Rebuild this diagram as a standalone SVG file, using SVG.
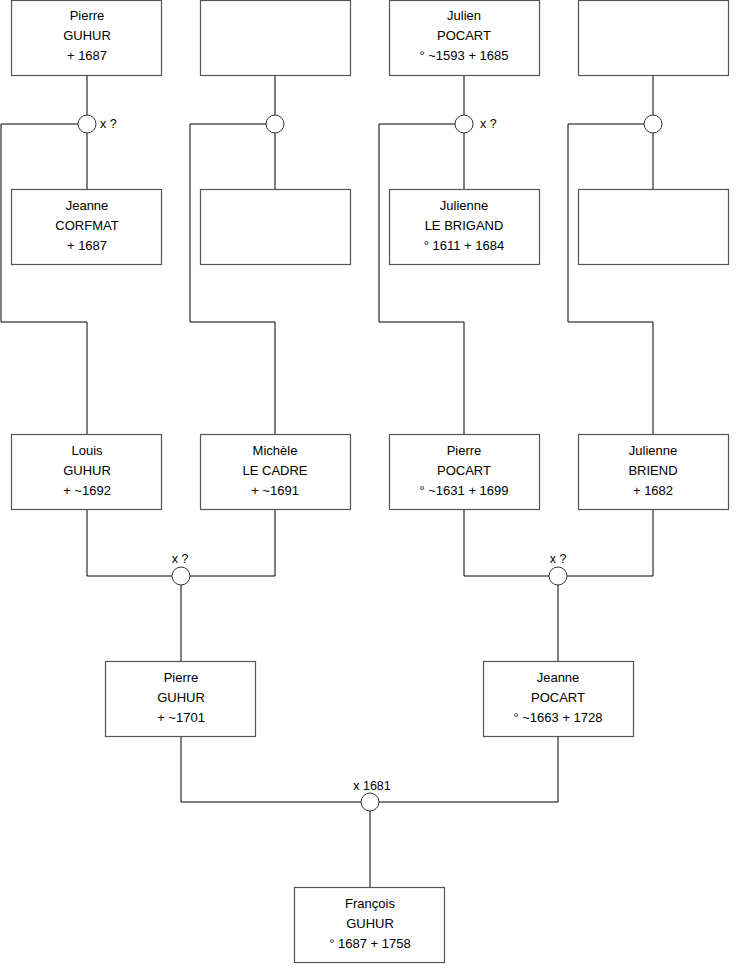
<svg xmlns="http://www.w3.org/2000/svg" width="740" height="975" viewBox="0 0 740 975">
<style>
.box{fill:#fff;stroke:#555;stroke-width:1.2}
.ln{fill:none;stroke:#000;stroke-width:1}
.ring{fill:#fff;stroke:#333;stroke-width:1}
text{font-family:"Liberation Sans",Arial,sans-serif;font-size:13px;fill:#000;text-anchor:middle}
.lbl{font-size:12.5px}
</style>
<rect width="740" height="975" fill="#fff"/>
<g id="connectors">
<path class="ln" d="M87 76V115M87 133V189"/>
<path class="ln" d="M275 76V115M275 133V189"/>
<path class="ln" d="M464 76V115M464 133V189"/>
<path class="ln" d="M653 76V115M653 133V189"/>
<path class="ln" d="M78 124H1V322H87V434"/>
<path class="ln" d="M266 124H190V322H275V434"/>
<path class="ln" d="M455 124H379V322H464V434"/>
<path class="ln" d="M644 124H568V322H653V434"/>
<path class="ln" d="M87 510V576H172M190 576H275V510M181 585V661"/>
<path class="ln" d="M464 510V576H549M567 576H653V510M558 585V661"/>
<path class="ln" d="M181 737V802H361M379 802H558V737M370 811V887"/>
<circle class="ring" cx="87" cy="124" r="9"/>
<circle class="ring" cx="275" cy="124" r="9"/>
<circle class="ring" cx="464" cy="124" r="9"/>
<circle class="ring" cx="653" cy="124" r="9"/>
<circle class="ring" cx="181" cy="576" r="9"/>
<circle class="ring" cx="558" cy="576" r="9"/>
<circle class="ring" cx="370" cy="802" r="9"/>
<text class="lbl" x="100" y="128" style="text-anchor:start">x ?</text>
<text class="lbl" x="480" y="128" style="text-anchor:start">x ?</text>
<text class="lbl" x="180" y="563">x ?</text>
<text class="lbl" x="558" y="563">x ?</text>
<text class="lbl" x="372" y="790">x 1681</text>
</g>
<g id="pierre-guhur-1"><rect class="box" x="11.5" y="0.5" width="150" height="75"/><text x="87" y="20">Pierre</text><text x="87" y="40">GUHUR</text><text x="87" y="60">+ 1687</text></g>
<g id="unknown-1"><rect class="box" x="200.5" y="0.5" width="150" height="75"/></g>
<g id="julien-pocart"><rect class="box" x="389.5" y="0.5" width="150" height="75"/><text x="464" y="20">Julien</text><text x="464" y="40">POCART</text><text x="464" y="60">° ~1593 + 1685</text></g>
<g id="unknown-2"><rect class="box" x="578.5" y="0.5" width="150" height="75"/></g>
<g id="jeanne-corfmat"><rect class="box" x="11.5" y="189.5" width="150" height="75"/><text x="87" y="210">Jeanne</text><text x="87" y="230">CORFMAT</text><text x="87" y="250">+ 1687</text></g>
<g id="unknown-3"><rect class="box" x="200.5" y="189.5" width="150" height="75"/></g>
<g id="julienne-le-brigand"><rect class="box" x="389.5" y="189.5" width="150" height="75"/><text x="464" y="210">Julienne</text><text x="464" y="230">LE BRIGAND</text><text x="464" y="250">° 1611 + 1684</text></g>
<g id="unknown-4"><rect class="box" x="578.5" y="189.5" width="150" height="75"/></g>
<g id="louis-guhur"><rect class="box" x="11.5" y="434.5" width="150" height="75"/><text x="87" y="455">Louis</text><text x="87" y="475">GUHUR</text><text x="87" y="495">+ ~1692</text></g>
<g id="michele-le-cadre"><rect class="box" x="200.5" y="434.5" width="150" height="75"/><text x="275" y="455">Michèle</text><text x="275" y="475">LE CADRE</text><text x="275" y="495">+ ~1691</text></g>
<g id="pierre-pocart"><rect class="box" x="389.5" y="434.5" width="150" height="75"/><text x="464" y="455">Pierre</text><text x="464" y="475">POCART</text><text x="464" y="495">° ~1631 + 1699</text></g>
<g id="julienne-briend"><rect class="box" x="578.5" y="434.5" width="150" height="75"/><text x="653" y="455">Julienne</text><text x="653" y="475">BRIEND</text><text x="653" y="495">+ 1682</text></g>
<g id="pierre-guhur-2"><rect class="box" x="105.5" y="661.5" width="150" height="75"/><text x="181" y="682">Pierre</text><text x="181" y="702">GUHUR</text><text x="181" y="722">+ ~1701</text></g>
<g id="jeanne-pocart"><rect class="box" x="483.5" y="661.5" width="150" height="75"/><text x="558" y="682">Jeanne</text><text x="558" y="702">POCART</text><text x="558" y="722">° ~1663 + 1728</text></g>
<g id="francois-guhur"><rect class="box" x="294.5" y="887.5" width="150" height="75"/><text x="370" y="908">François</text><text x="370" y="928">GUHUR</text><text x="370" y="948">° 1687 + 1758</text></g>
</svg>
